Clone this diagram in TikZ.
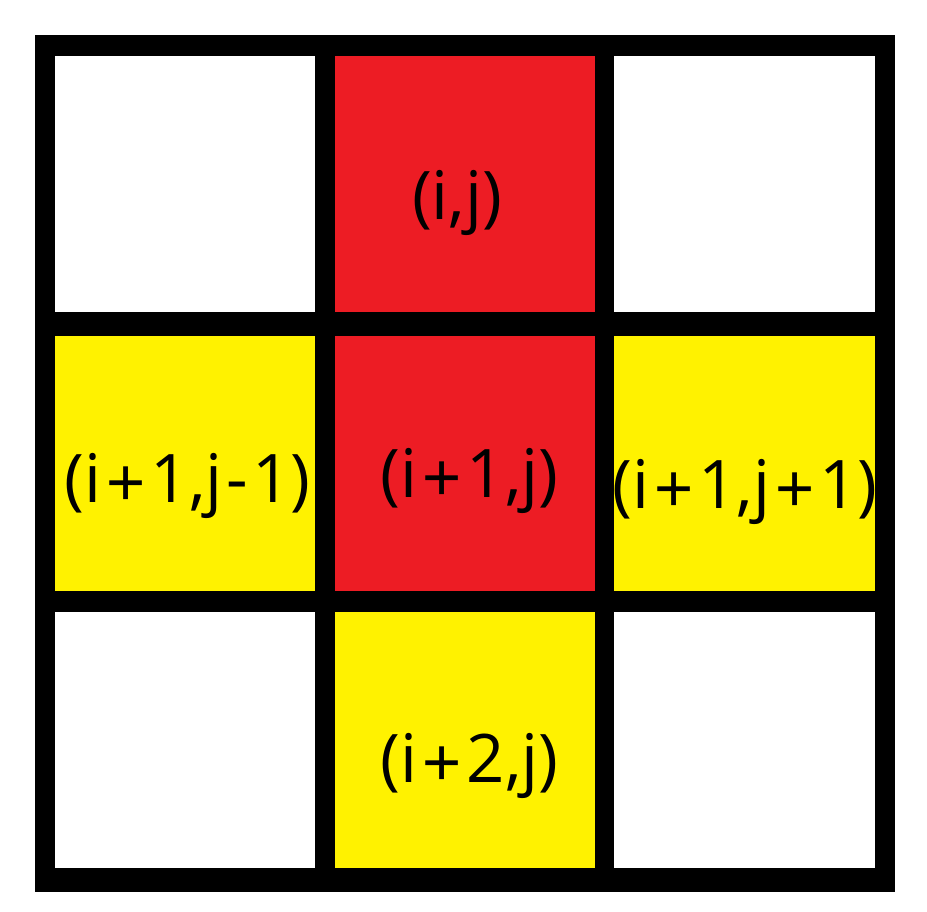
\documentclass[tikz,border=0pt]{standalone}
\usepackage{fontspec}
\setmainfont{Open Sans}
\newfontfamily\plusfont{Liberation Sans}
\definecolor{cellred}{RGB}{237,28,36}
\definecolor{cellyellow}{RGB}{255,242,0}
\newcommand\gplus{\kern5pt\raisebox{-3pt}{\plusfont +}\kern5pt}
\newcommand\gminus{\kern4pt-\kern4pt}
\begin{document}
\begin{tikzpicture}[x=1pt,y=-1pt,
  lbl/.style={anchor=base,inner sep=0pt,font=\fontsize{67}{70}\selectfont}]
\useasboundingbox (0,0) rectangle (927,912);
\fill[white] (0,0) rectangle (927,912);
\fill[black] (35,35) rectangle (895,892);
% row 1
\fill[white] (55,56) rectangle (315,312);
\fill[cellred] (335,56) rectangle (595,312);
\fill[white] (614,56) rectangle (875,312);
% row 2
\fill[cellyellow] (55,336) rectangle (315,591);
\fill[cellred] (335,336) rectangle (595,591);
\fill[cellyellow] (614,336) rectangle (875,591);
% row 3
\fill[white] (55,612) rectangle (315,868);
\fill[cellyellow] (335,612) rectangle (595,868);
\fill[white] (614,612) rectangle (875,868);
% labels
\node[lbl] (ij) at (457,220) {(i,j)};
\node[lbl] (i1jm1) at (187.5,502) {(i\gplus1,j\gminus1)};
\node[lbl] (i1j) at (469.5,497) {(i\gplus1,j)};
\node[lbl] (i1jp1) at (745,508) {(i\gplus1,j\gplus1)};
\node[lbl] (i2j) at (469.5,782) {(i\gplus2,j)};
\end{tikzpicture}
\end{document}
